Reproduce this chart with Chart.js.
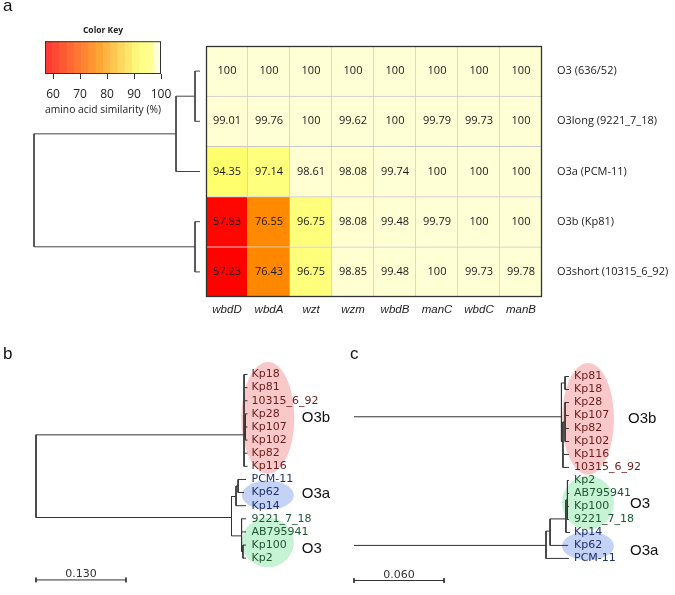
<!DOCTYPE html>
<html>
<head>
<meta charset="utf-8">
<script src="https://cdn.jsdelivr.net/npm/chart.js@4.4.1/dist/chart.umd.min.js"></script>
<style>
  body { margin: 0; background: #fff; }
  #page { position: relative; width: 675px; height: 595px; overflow: hidden; background: #fff; }
  canvas { position: absolute; }
  .panel { position: absolute; font: 17px "Liberation Sans", Arial, sans-serif; line-height: 17px; color: #111; }
</style>
</head>
<body>
<div id="page">
  <canvas id="heatmap" width="675" height="330" style="left:0;top:0;width:675px;height:330px"></canvas>
  <canvas id="dendro" width="675" height="330" style="left:0;top:0;width:675px;height:330px"></canvas>
  <canvas id="colorkey" width="675" height="118" style="left:0;top:0;width:675px;height:118px"></canvas>
  <canvas id="treeB" width="340" height="265" style="left:0;top:330px;width:340px;height:265px"></canvas>
  <canvas id="treeC" width="335" height="265" style="left:340px;top:330px;width:335px;height:265px"></canvas>
  <div class="panel" style="left:3px;top:-3px">a</div>
  <div class="panel" style="left:3px;top:345px">b</div>
  <div class="panel" style="left:350px;top:345px">c</div>
</div>
<script>
// ---- heatmap data (amino acid similarity, %) ----
const genes = ["wbdD", "wbdA", "wzt", "wzm", "wbdB", "manC", "wbdC", "manB"];
const rowNames = ["O3 (636/52)", "O3long (9221_7_18)", "O3a (PCM-11)", "O3b (Kp81)", "O3short (10315_6_92)"];
const simO3 = [100, 100, 100, 100, 100, 100, 100, 100];
const simO3long = [99.01, 99.76, 100, 99.62, 100, 99.79, 99.73, 100];
const simO3a = [94.35, 97.14, 98.61, 98.08, 99.74, 100, 100, 100];
const simO3b = [57.83, 76.55, 96.75, 98.08, 99.48, 99.79, 100, 100];
const simO3short = [57.23, 76.43, 96.75, 98.85, 99.48, 100, 99.73, 99.78];
const simRows = [simO3, simO3long, simO3a, simO3b, simO3short];

// row dendrogram (hclust style: negative = leaf, positive = earlier merge)
const dendroMerge = [[-1, -2], [-4, -5], [1, -3], [3, 2]];
const dendroHeight = [1.0, 1.0, 4.8, 33.2];

// colour key
const keyBreaks = [57, 59.7, 62.4, 65.1, 67.8, 70.5, 73.2, 75.9, 78.6, 81.3, 84, 86.7, 89.4, 92.1, 94.8, 97.5, 100];
const keyTicks = [60, 70, 80, 90, 100];

// ---- trees (branch length units, rows = leaf order top to bottom) ----
const o3bStrains = ["Kp18", "Kp81", "10315_6_92", "Kp28", "Kp107", "Kp102", "Kp82", "Kp116"];
const o3aStrains = ["PCM-11", "Kp62", "Kp14"];
const o3Strains = ["9221_7_18", "AB795941", "Kp100", "Kp2"];

const treeBLeaves = ["Kp18", "Kp81", "10315_6_92", "Kp28", "Kp107", "Kp102", "Kp82", "Kp116",
                     "PCM-11", "Kp62", "Kp14", "9221_7_18", "AB795941", "Kp100", "Kp2"];
const treeBLeafDepth = [0.3056, 0.3056, 0.3056, 0.3056, 0.3056, 0.3056, 0.3056, 0.3056,
                        0.3035, 0.3006, 0.3035, 0.3035, 0.3035, 0.3035, 0.3035];
const treeBLeafParent = [1, 1, 1, 2, 2, 2, 1, 1, 5, 5, 4, 6, 6, 7, 7];
const treeBInnerDepth = [0, 0.3006, 0.3027, 0.2825, 0.289, 0.292, 0.297, 0.299];
const treeBInnerRow = [7.5, 4.6, 4, 10.9, 9.3, 8.5, 12.3, 13.5];
const treeBInnerParent = [-1, 0, 1, 0, 3, 4, 3, 6];
const treeBScale = 0.130;

const treeCLeaves = ["Kp81", "Kp18", "Kp28", "Kp107", "Kp82", "Kp102", "Kp116", "10315_6_92",
                     "Kp2", "AB795941", "Kp100", "9221_7_18", "Kp14", "Kp62", "PCM-11"];
const treeCLeafDepth = [0.1433, 0.1433, 0.1433, 0.1433, 0.1433, 0.1433, 0.1433, 0.1433,
                        0.1433, 0.1433, 0.1433, 0.1433, 0.144, 0.1427, 0.1433];
const treeCLeafParent = [1, 1, 3, 3, 3, 3, 2, 2, 7, 7, 7, 7, 6, 5, 4];
const treeCInnerDepth = [0.1383, 0.1407, 0.1393, 0.1407, 0.128, 0.1307, 0.1413, 0.1423];
const treeCInnerRow = [3.1, 0.5, 5, 3.5, 13, 11.9, 10.96, 9.5];
const treeCInnerParent = [-1, 0, 0, 2, -1, 4, 5, 6];
const treeCScale = 0.060;

// ---- shared defaults ----
Chart.defaults.font.family = "'Open Sans', sans-serif";
Chart.defaults.color = "#222";
Chart.defaults.animation = false;
Chart.defaults.plugins.legend.display = false;
Chart.defaults.plugins.tooltip.enabled = false;

// heat-like colour ramp, red -> orange -> yellow -> pale yellow
const heatStops = [[57, [255, 0, 0]], [77, [255, 140, 0]], [92, [255, 255, 96]],
                   [97.5, [255, 255, 128]], [97.6, [255, 255, 206]], [100, [255, 255, 214]]];
function heatColor(v, wash = 0) {
  let c = heatStops[heatStops.length - 1][1];
  for (let i = 1; i < heatStops.length; i++) {
    if (v <= heatStops[i][0]) {
      const [a, ca] = heatStops[i - 1], [b, cb] = heatStops[i];
      const t = Math.max(0, (v - a) / (b - a));
      c = ca.map((x, k) => x + (cb[k] - x) * t);
      break;
    }
  }
  c = c.map(x => Math.round(x + (255 - x) * wash));
  return `rgb(${c[0]},${c[1]},${c[2]})`;
}

// ---- heatmap ----
const cellText = {
  id: "cellText",
  afterDatasetsDraw(chart) {
    const ctx = chart.ctx;
    ctx.save();
    ctx.font = "11px 'Open Sans'";
    ctx.fillStyle = "#1a1a1a";
    ctx.textAlign = "center";
    ctx.textBaseline = "middle";
    chart.data.datasets.forEach((ds, d) => {
      chart.getDatasetMeta(d).data.forEach((bar, i) => {
        ctx.fillText(String(ds.sim[i]), bar.x, (bar.y + bar.base) / 2);
      });
    });
    const a = chart.chartArea;
    ctx.strokeStyle = "#333";
    ctx.lineWidth = 1.3;
    ctx.strokeRect(a.left + 0.5, a.top + 0.5, a.right - a.left - 1, a.bottom - a.top - 1);
    ctx.restore();
  }
};

new Chart(document.getElementById("heatmap"), {
  type: "bar",
  data: {
    labels: genes,
    datasets: rowNames.map((name, r) => ({
      label: name,
      data: genes.map(() => 1),
      sim: simRows[r],
      backgroundColor: simRows[r].map(v => heatColor(v)),
      borderColor: "#c8c8c8",
      borderWidth: { top: 1, right: 1, bottom: 0, left: 0 },
      borderSkipped: false,
      barPercentage: 1,
      categoryPercentage: 1
    })).reverse()
  },
  options: {
    responsive: false,
    layout: { padding: { left: 206, top: 46 } },
    scales: {
      x: {
        stacked: true,
        afterFit: s => { s.height = 33; },
        grid: { display: false, drawTicks: false },
        border: { display: false },
        ticks: { padding: 6, autoSkip: false, maxRotation: 0, color: "#222",
                 font: { family: "'Liberation Sans', Arial, sans-serif", size: 11.5, style: "italic" } }
      },
      y: {
        stacked: true,
        position: "right",
        min: 0,
        max: rowNames.length,
        afterFit: s => { s.width = 133; },
        afterBuildTicks: s => { s.ticks = rowNames.map((n, r) => ({ value: rowNames.length - r - 0.5 })); },
        grid: { display: false, drawTicks: false },
        border: { display: false },
        ticks: { padding: 15, autoSkip: false, font: { size: 11 }, color: "#222",
                 callback: v => rowNames[Math.round(rowNames.length - 0.5 - v)] }
      }
    }
  },
  plugins: [cellText]
});

// ---- row dendrogram ----
const dendroPts = [];
const nodeCache = [];
const nodePos = k => k < 0 ? { row: -k - 1, h: 0 } : nodeCache[k - 1];
dendroMerge.forEach(([a, b], j) => {
  const pa = nodePos(a), pb = nodePos(b), h = dendroHeight[j];
  dendroPts.push({ x: pa.h, y: pa.row }, { x: h, y: pa.row }, { x: h, y: pb.row }, { x: pb.h, y: pb.row }, { x: null, y: null });
  nodeCache.push({ row: (pa.row + pb.row) / 2, h });
});

new Chart(document.getElementById("dendro"), {
  type: "scatter",
  data: { datasets: [{ data: dendroPts, showLine: true, borderColor: "#444", borderWidth: 1, pointRadius: 0, clip: false }] },
  options: {
    responsive: false,
    layout: { padding: { left: 34, right: 475, top: 46, bottom: 33 } },
    scales: {
      x: { type: "linear", display: false, reverse: true, min: 0, max: Math.max(...dendroHeight) },
      y: { type: "linear", display: false, reverse: true, min: -0.5, max: rowNames.length - 0.5 }
    }
  }
});

// ---- colour key ----
const keyBox = {
  id: "keyBox",
  afterDatasetsDraw(chart) {
    const a = chart.chartArea, ctx = chart.ctx;
    ctx.save();
    ctx.strokeStyle = "#333";
    ctx.lineWidth = 1;
    ctx.strokeRect(a.left + 0.5, a.top + 0.5, a.right - a.left - 1, a.bottom - a.top - 1);
    ctx.restore();
  }
};

new Chart(document.getElementById("colorkey"), {
  type: "bar",
  data: {
    labels: ["key"],
    datasets: [{
      data: keyBreaks.slice(1).map((b, i) => ({ x: [keyBreaks[i], b], y: "key" })),
      backgroundColor: keyBreaks.slice(1).map((b, i) => heatColor((keyBreaks[i] + b) / 2, 0.2)),
      borderWidth: 0,
      barPercentage: 1,
      categoryPercentage: 1
    }]
  },
  options: {
    indexAxis: "y",
    responsive: false,
    layout: { padding: { left: 45, right: 514, top: 25 } },
    plugins: {
      title: { display: true, text: "Color Key", color: "#222",
               font: { size: 8.5, weight: "bold" }, padding: { top: 0, bottom: 6 } }
    },
    scales: {
      x: {
        type: "linear",
        min: 57,
        max: 100,
        afterFit: s => { s.height = 44; },
        afterBuildTicks: s => { s.ticks = keyTicks.map(v => ({ value: v })); },
        grid: { drawOnChartArea: false, drawTicks: true, tickLength: 5, color: "#333", tickColor: "#333" },
        border: { display: false },
        ticks: { padding: 8, font: { size: 12 }, color: "#222" },
        title: { display: true, text: "amino acid similarity (%)", color: "#222",
                 font: { size: 10.5 }, padding: { top: 0, bottom: 2 } }
      },
      y: { display: false }
    }
  },
  plugins: [keyBox]
});

// ---- phylogenetic trees ----
const cladeColor = { O3b: "#f9c8c8", O3a: "#c3d2f5", O3: "#c6f3d4" };
function leafColor(name) {
  if (o3bStrains.includes(name)) return "#6b1c1c";
  if (o3aStrains.includes(name)) return "#1f2f6e";
  return "#1e5630";
}

function drawTree(id, t) {
  const segs = [];
  const add = (x1, y1, x2, y2) => segs.push({ x: x1, y: y1 }, { x: x2, y: y2 }, { x: null, y: null });
  const kids = t.innerDepth.map(() => []);
  t.leaves.forEach((n, i) => {
    const p = t.leafParent[i];
    kids[p].push(i);
    add(t.innerDepth[p], i, t.leafDepth[i], i);
  });
  t.innerParent.forEach((p, j) => {
    const from = p >= 0 ? t.innerDepth[p] : 0;
    if (p >= 0) kids[p].push(t.innerRow[j]);
    if (t.innerDepth[j] > from) add(from, t.innerRow[j], t.innerDepth[j], t.innerRow[j]);
  });
  kids.forEach((rows, j) => {
    add(t.innerDepth[j], Math.min(...rows, t.innerRow[j]), t.innerDepth[j], Math.max(...rows, t.innerRow[j]));
  });

  const bar = [];
  bar.push({ x: 0, y: t.barRow }, { x: t.scaleLen, y: t.barRow }, { x: null, y: null },
           { x: 0, y: t.barRow - 0.18 }, { x: 0, y: t.barRow + 0.18 }, { x: null, y: null },
           { x: t.scaleLen, y: t.barRow - 0.18 }, { x: t.scaleLen, y: t.barRow + 0.18 });

  const decor = {
    id: "treeDecor",
    beforeDraw(chart) {
      const { x, y } = chart.scales, ctx = chart.ctx;
      ctx.save();
      t.clades.forEach(c => {
        const cx = x.getPixelForValue(c.x), cy = y.getPixelForValue(c.y);
        const rx = Math.abs(x.getPixelForValue(c.x + c.rx) - cx);
        const ry = Math.abs(y.getPixelForValue(c.y + c.ry) - cy);
        ctx.beginPath();
        ctx.fillStyle = cladeColor[c.name];
        ctx.ellipse(cx, cy, rx, ry, 0, 0, Math.PI * 2);
        ctx.fill();
      });
      ctx.restore();
    },
    afterDraw(chart) {
      const { x, y } = chart.scales, ctx = chart.ctx;
      ctx.save();
      ctx.fillStyle = "#111";
      ctx.font = "15px 'Liberation Sans', Arial, sans-serif";
      ctx.textAlign = "left";
      ctx.textBaseline = "middle";
      t.clades.forEach(c => ctx.fillText(c.name, x.getPixelForValue(c.lx), y.getPixelForValue(c.ly)));
      ctx.fillStyle = "#333";
      ctx.font = "11px 'DejaVu Sans', sans-serif";
      ctx.textAlign = "center";
      ctx.textBaseline = "alphabetic";
      ctx.fillText(t.scaleLen.toFixed(3), x.getPixelForValue(t.scaleLen / 2), y.getPixelForValue(t.barRow) - 2.5);
      ctx.restore();
    }
  };

  new Chart(document.getElementById(id), {
    type: "scatter",
    data: {
      datasets: [
        { data: segs, showLine: true, borderColor: "#333", borderWidth: 1, pointRadius: 0, clip: false },
        { data: bar, showLine: true, borderColor: "#333", borderWidth: 1, pointRadius: 0, clip: false }
      ]
    },
    options: {
      responsive: false,
      layout: { padding: { left: t.left, top: t.top, bottom: t.bottom, right: 0 } },
      scales: {
        x: { type: "linear", display: false, min: 0, max: Math.max(...t.leafDepth) },
        y: {
          type: "linear",
          position: "right",
          reverse: true,
          min: -1,
          max: 16,
          afterFit: s => { s.width = t.axisWidth; },
          afterBuildTicks: s => { s.ticks = t.leaves.map((n, i) => ({ value: i })); },
          grid: { display: false, drawTicks: false },
          border: { display: false },
          ticks: {
            autoSkip: false,
            padding: 4,
            font: { family: "'DejaVu Sans', sans-serif", size: 11 },
            color: c => leafColor(t.leaves[c.index]),
            callback: v => t.leaves[v]
          }
        }
      }
    },
    plugins: [decor]
  });
}

drawTree("treeB", {
  leaves: treeBLeaves, leafDepth: treeBLeafDepth, leafParent: treeBLeafParent,
  innerDepth: treeBInnerDepth, innerRow: treeBInnerRow, innerParent: treeBInnerParent,
  scaleLen: treeBScale, barRow: 15.66,
  left: 36, top: 31.4, bottom: 2.4, axisWidth: 92.5,
  clades: [
    { name: "O3b", x: 0.335, y: 3.3, rx: 0.0383, ry: 4.26, lx: 0.384, ly: 3.3 },
    { name: "O3a", x: 0.335, y: 9.2, rx: 0.0376, ry: 1.1, lx: 0.384, ly: 9.1 },
    { name: "O3", x: 0.335, y: 12.8, rx: 0.0376, ry: 1.9, lx: 0.384, ly: 13.3 }
  ]
});

drawTree("treeC", {
  leaves: treeCLeaves, leafDepth: treeCLeafDepth, leafParent: treeCLeafParent,
  innerDepth: treeCInnerDepth, innerRow: treeCInnerRow, innerParent: treeCInnerParent,
  scaleLen: treeCScale, barRow: 15.7,
  left: 14, top: 33.5, bottom: 2, axisWidth: 105,
  clades: [
    { name: "O3b", x: 0.156, y: 3.26, rx: 0.0173, ry: 4.3, lx: 0.1827, ly: 3.26 },
    { name: "O3", x: 0.156, y: 9.7, rx: 0.0173, ry: 2.07, lx: 0.184, ly: 9.8 },
    { name: "O3a", x: 0.156, y: 13.04, rx: 0.0173, ry: 1.1, lx: 0.184, ly: 13.4 }
  ]
});
</script>
</body>
</html>
